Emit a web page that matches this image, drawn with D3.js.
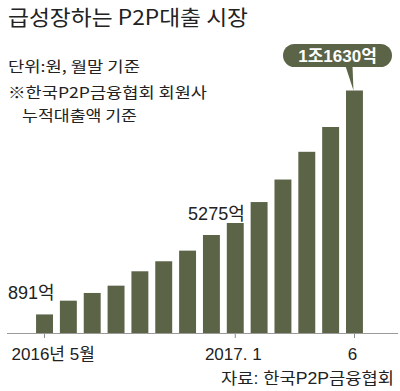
<!DOCTYPE html>
<html><head><meta charset="utf-8">
<script src="https://cdn.jsdelivr.net/npm/d3@7/dist/d3.min.js"></script>
<style>
html,body{margin:0;padding:0;background:#fff;}
svg text{font-family:"Liberation Sans","Noto Sans CJK KR",sans-serif;fill:#222;}
</style></head>
<body><svg id="c" width="400" height="391"></svg>
<script>
const months = ["2016-05","2016-06","2016-07","2016-08","2016-09","2016-10","2016-11","2016-12","2017-01","2017-02","2017-03","2017-04","2017-05","2017-06"];
const values = [891, 1550, 1920, 2270, 2960, 3440, 3950, 4700, 5275, 6280, 7360, 8690, 9880, 11630];
const tickMonths = ["2016-05","2017-01","2017-06"];
const tickLabels = ["2016년 5월","2017. 1","6"];
const valueLabels = ["891억","5275억","1조1630억"];
const labelMonths = ["2016-05","2017-01","2017-06"];

const svg = d3.select("#c");
const barColor = "#5b6447";
const base = 333;

const x = d3.scaleBand().domain(months).range([32.6, 366.4]).paddingInner(0.29).paddingOuter(0.145);
const y = d3.scaleLinear().domain([0, 11630]).range([base, 90.5]);

function txt(s, xx, yy, size, len, fam) {
  const t = svg.append("text").attr("x", xx).attr("y", yy)
    .style("font-family", fam || "'Noto Sans CJK KR'").style("font-size", size + "px").text(s);
  if (len) t.attr("textLength", len).attr("lengthAdjust", "spacingAndGlyphs");
  return t;
}
// Title & notes
txt("급성장하는 P2P대출 시장", 8, 25, 21, 240);
txt("단위:원, 월말 기준", 8, 72, 15, 132);
txt("※한국P2P금융협회 회원사", 8, 98, 15, 199);
txt("누적대출액 기준", 22, 121, 15, 115);

// Bars
svg.selectAll("rect.bar").data(months).join("rect").attr("class","bar")
  .attr("x", d => x(d)).attr("width", x.bandwidth())
  .attr("y", (d,i) => y(values[i])).attr("height", (d,i) => base - y(values[i]))
  .attr("fill", barColor);

// Axis
const axis = d3.axisBottom(x).tickValues(tickMonths).tickSize(5).tickSizeOuter(0)
  .tickFormat(d => tickLabels[tickMonths.indexOf(d)]);
const ag = svg.append("g").attr("transform", `translate(0,${base})`).call(axis);
ag.select(".domain").remove();
ag.append("line").attr("x1", 7).attr("x2", 398).attr("y1", 0.5).attr("y2", 0.5).attr("stroke", "#9a9a9a").attr("stroke-width", 1);
ag.selectAll(".tick line").attr("stroke", "#888").attr("y1", 0.5);
ag.selectAll(".tick text").attr("y", 27).attr("dy", 0).style("font-size", "17px").attr("fill", "#222")
  .style("font-family", "'Liberation Sans','Noto Sans CJK KR',sans-serif")
  .attr("text-anchor", (d,i) => i === 0 ? "start" : "middle")
  .attr("dx", (d,i) => i === 0 ? -33 : -2);

// Source
txt("자료: 한국P2P금융협회", 221, 384, 16, 173, "'Liberation Sans','Noto Sans CJK KR',sans-serif");

// Value labels
const i0 = months.indexOf(labelMonths[0]);
svg.append("text").attr("x", x(labelMonths[0]) - 28).attr("y", y(values[i0]) - 15)
  .style("font-size", "18px").text(valueLabels[0]);
const i1 = months.indexOf(labelMonths[1]);
svg.append("text").attr("x", x(labelMonths[1]) + x.bandwidth() + 1).attr("y", y(values[i1]) - 3)
  .attr("text-anchor", "end").style("font-size", "18px").text(valueLabels[1]);

// Callout
const i2 = months.indexOf(labelMonths[2]);
const cx = x(labelMonths[2]) + x.bandwidth()/2;
const topY = y(values[i2]);
const pill = {x: 283, y: 44, w: 109, h: 23};
const cg = svg.append("g");
cg.append("path").attr("d", `M${cx-9},${pill.y+pill.h-1} L${cx-2},${pill.y+pill.h-1} L${cx-1},${topY} Z`).attr("fill", barColor);
cg.append("rect").attr("x", pill.x).attr("y", pill.y).attr("width", pill.w).attr("height", pill.h)
  .attr("rx", 11.5).attr("fill", barColor);
cg.append("text").attr("x", pill.x + pill.w/2).attr("y", pill.y + 18).attr("text-anchor", "middle")
  .style("font-size", "17px").style("font-weight", "bold").style("fill", "#fff").text(valueLabels[2]);
</script></body></html>
